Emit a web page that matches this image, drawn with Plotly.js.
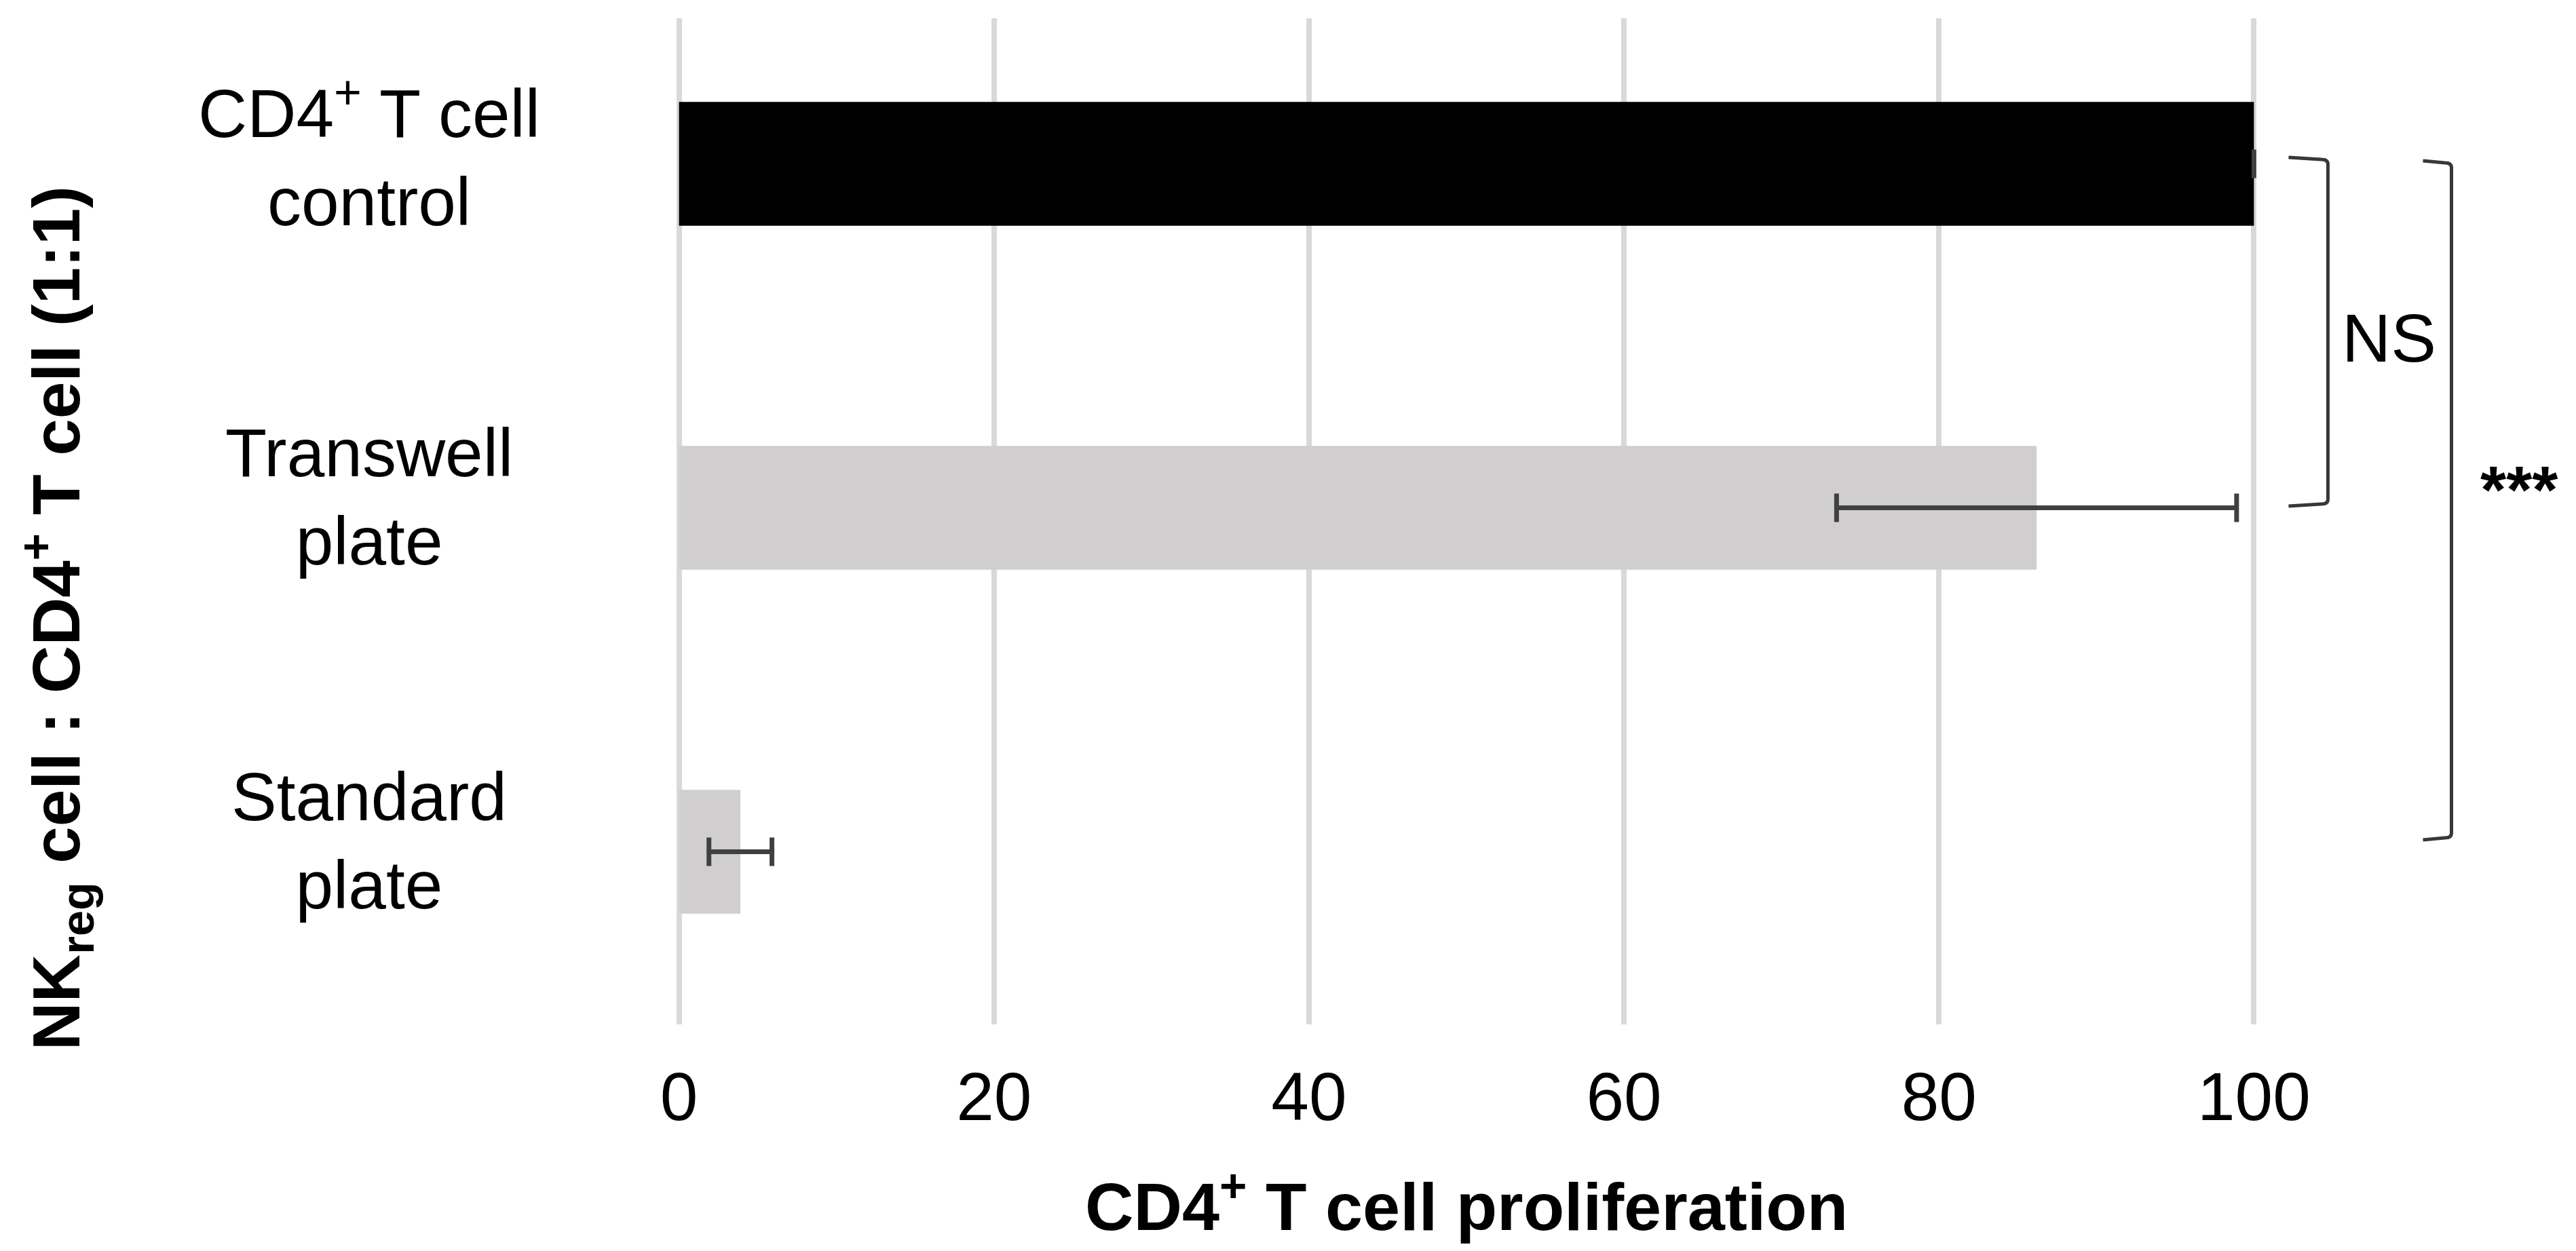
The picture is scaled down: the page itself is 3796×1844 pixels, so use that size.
<!DOCTYPE html>
<html>
<head>
<meta charset="utf-8">
<script src="https://cdn.plot.ly/plotly-3.0.1.min.js"></script>
<style>html,body{margin:0;padding:0;background:#fff;}#chart{width:3796px;height:1844px;}</style>
</head>
<body>
<div id="chart"></div>
<script>
// ---- data ----
const categories = ['CD4+ T cell control', 'Transwell plate', 'Standard plate'];
const categoryLabels = ['CD4<sup>+</sup> T cell<br>control', 'Transwell<br>plate', 'Standard<br>plate'];
const proliferation = [100, 86.2, 3.9];
const errorSD = [0, 12.7, 2.0];
const barColors = ['#000000', '#d0cecf', '#d0cecf'];
const xTickValues = [0, 20, 40, 60, 80, 100];
const xTickLabels = ['0', '20', '40', '60', '80', '100'];
const xTitle = '<b>CD4<sup>+</sup> T cell proliferation</b>';
const yTitle = '<b>NK<sub>reg</sub> cell : CD4<sup>+</sup> T cell (1:1)</b>';
const significance = ['NS', '***'];

// ---- geometry (pixels of the 3796x1844 canvas) ----
const W = 3796, H = 1844;
const xRange = [-0.5, 100.5];
const pxPerUnit = 23.2;
const plotL = 1001 + xRange[0] * pxPerUnit;
const plotW = (xRange[1] - xRange[0]) * pxPerUnit;
const plotT = 27, plotB = 1510;
const plotH = plotB - plotT;
const yRange = [2.502, -0.423];
const px = v => (v - plotL) / plotW;          // pixel x -> paper x
const py = v => (plotB - v) / plotH;          // pixel y -> paper y

const FONT = 'Liberation Sans, Arial, Helvetica, sans-serif';
const lineColor = '#383838';

function bracket(x0, x1, y0, y1) {
  const rx = 10 / plotW, ry = 10 / plotH;
  const X0 = px(x0), X1 = px(x1), Y0 = py(y0), Y1 = py(y1);
  return {
    type: 'path', xref: 'paper', yref: 'paper',
    path: `M ${X0},${Y0} L ${X1 - rx},${Y0 - ry * 0.3} Q ${X1},${Y0 - ry * 0.3} ${X1},${Y0 - ry} ` +
          `L ${X1},${Y1 + ry} Q ${X1},${Y1 + ry * 0.3} ${X1 - rx},${Y1 + ry * 0.3} L ${X0},${Y1}`,
    line: {color: lineColor, width: 5}
  };
}

const trace = {
  type: 'bar',
  orientation: 'h',
  y: categories,
  x: proliferation,
  width: 0.36,
  marker: {color: barColors, line: {width: 0}},
  error_x: {type: 'data', array: errorSD, visible: true, color: '#404040', thickness: 7, width: 21},
  hoverinfo: 'none'
};

const annotations = [];
categories.forEach((c, i) => {
  annotations.push({
    xref: 'paper', yref: 'y', x: px(545), y: c, text: categoryLabels[i],
    showarrow: false, xanchor: 'center', yanchor: 'middle', align: 'center',
    yshift: 16, font: {family: FONT, size: 100, color: '#000'}
  });
});
annotations.push({
  xref: 'paper', yref: 'paper', x: px(84), y: py(911), text: yTitle, textangle: -90,
  showarrow: false, xanchor: 'center', yanchor: 'middle',
  font: {family: FONT, size: 98, color: '#000'}
});
annotations.push({
  xref: 'paper', yref: 'paper', x: px(2161), y: py(1771), text: xTitle,
  showarrow: false, xanchor: 'center', yanchor: 'middle',
  font: {family: FONT, size: 99, color: '#000'}
});
annotations.push({
  xref: 'paper', yref: 'paper', x: px(3520), y: py(498), text: significance[0],
  showarrow: false, xanchor: 'center', yanchor: 'middle',
  font: {family: FONT, size: 100, color: '#000'}
});
annotations.push({
  xref: 'paper', yref: 'paper', x: px(3712), y: py(722), text: '<b>' + significance[1] + '</b>',
  showarrow: false, xanchor: 'center', yanchor: 'middle',
  font: {family: FONT, size: 98, color: '#000'}
});

const layout = {
  width: W, height: H,
  margin: {l: plotL, r: W - plotL - plotW, t: plotT, b: H - plotB, pad: 0},
  paper_bgcolor: '#ffffff', plot_bgcolor: '#ffffff',
  showlegend: false,
  font: {family: FONT, color: '#000'},
  xaxis: {
    range: xRange, tickvals: xTickValues, ticktext: xTickLabels,
    showgrid: true, gridcolor: '#d9d9d9', gridwidth: 8,
    zeroline: false, showline: false, ticks: '',
    tickfont: {family: FONT, size: 100, color: '#000'},
    ticklabelstandoff: 40, fixedrange: true
  },
  yaxis: {
    type: 'category', categoryorder: 'array', categoryarray: categories,
    range: yRange, showgrid: false, zeroline: false, showline: false,
    showticklabels: false, ticks: '', fixedrange: true
  },
  shapes: [
    bracket(3372, 3430, 232, 746),
    bracket(3570, 3612, 237, 1238)
  ],
  annotations: annotations
};

Plotly.newPlot('chart', [trace], layout, {displayModeBar: false, staticPlot: true});
</script>
</body>
</html>
